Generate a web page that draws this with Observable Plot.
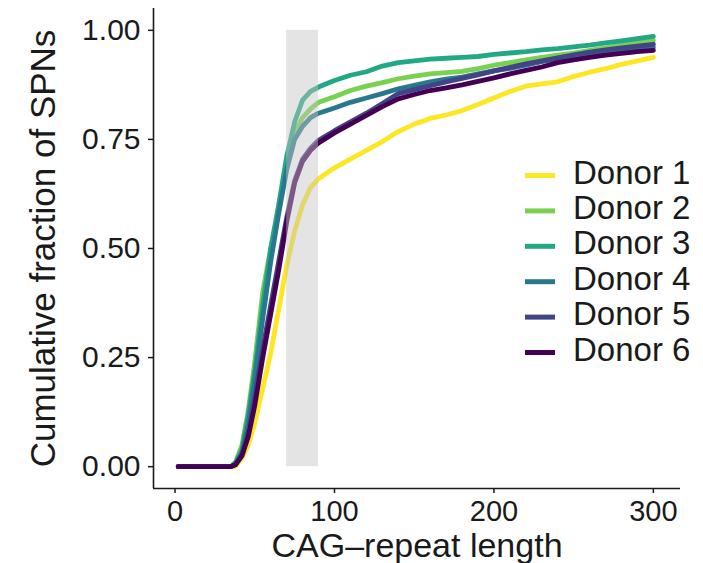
<!DOCTYPE html>
<html>
<head>
<meta charset="utf-8">
<script src="https://cdn.jsdelivr.net/npm/d3@7"></script>
<script src="https://cdn.jsdelivr.net/npm/@observablehq/plot@0.6"></script>
<style>
  html, body { margin: 0; padding: 0; background: white; }
  #chart { position: relative; width: 703px; height: 563px; }
</style>
</head>
<body>
<div id="chart"></div>
<script>
// ---- Data ----
const donors = ["Donor 1", "Donor 2", "Donor 3", "Donor 4", "Donor 5", "Donor 6"];
const donorColors = ["#FDE725", "#7AD151", "#22A884", "#2A788E", "#414487", "#440154"];

const cagLength = [2, 35, 38, 42, 46, 50, 55, 60, 65, 70, 75, 80, 85, 90,
  100, 110, 120, 130, 140, 150, 160, 170, 180, 190, 200, 210, 220, 230, 240, 250, 260, 270, 280, 290, 300];

const donor1 = [0, 0, 0, 0.02, 0.05, 0.10, 0.18, 0.26, 0.36, 0.46, 0.54, 0.60, 0.64, 0.66,
  0.685, 0.705, 0.725, 0.745, 0.768, 0.785, 0.798, 0.806, 0.816, 0.83, 0.845, 0.86, 0.872, 0.877, 0.882, 0.894, 0.904, 0.912, 0.922, 0.93, 0.938];
const donor2 = [0, 0, 0.01, 0.05, 0.13, 0.24, 0.40, 0.50, 0.585, 0.69, 0.765, 0.80, 0.82, 0.835,
  0.848, 0.862, 0.872, 0.88, 0.889, 0.895, 0.90, 0.903, 0.906, 0.912, 0.92, 0.926, 0.932, 0.938, 0.943, 0.948, 0.954, 0.96, 0.966, 0.971, 0.977];
const donor3 = [0, 0, 0.01, 0.04, 0.12, 0.22, 0.37, 0.50, 0.60, 0.71, 0.79, 0.84, 0.86, 0.87,
  0.885, 0.897, 0.905, 0.918, 0.926, 0.93, 0.934, 0.936, 0.938, 0.94, 0.945, 0.948, 0.951, 0.955, 0.958, 0.962, 0.966, 0.971, 0.976, 0.981, 0.986];
const donor4 = [0, 0, 0.005, 0.03, 0.10, 0.20, 0.34, 0.47, 0.58, 0.68, 0.75, 0.78, 0.80, 0.81,
  0.822, 0.835, 0.845, 0.855, 0.866, 0.874, 0.882, 0.888, 0.893, 0.90, 0.907, 0.913, 0.92, 0.928, 0.935, 0.94, 0.945, 0.95, 0.954, 0.958, 0.961];
const donor5 = [0, 0, 0.005, 0.03, 0.08, 0.16, 0.27, 0.37, 0.47, 0.57, 0.655, 0.705, 0.73, 0.748,
  0.77, 0.79, 0.81, 0.832, 0.855, 0.864, 0.873, 0.882, 0.89, 0.898, 0.907, 0.915, 0.923, 0.93, 0.937, 0.944, 0.95, 0.955, 0.96, 0.964, 0.968];
const donor6 = [0, 0, 0.005, 0.025, 0.07, 0.14, 0.25, 0.35, 0.45, 0.56, 0.65, 0.70, 0.725, 0.742,
  0.765, 0.785, 0.805, 0.825, 0.843, 0.853, 0.862, 0.868, 0.875, 0.883, 0.891, 0.90, 0.908, 0.916, 0.926, 0.932, 0.938, 0.943, 0.947, 0.951, 0.954];
const donorSeries = [donor1, donor2, donor3, donor4, donor5, donor6];

const bandStart = 70, bandEnd = 90, bandBottom = 0, bandTop = 1;

const xTicks = [0, 100, 200, 300];
const yTicks = [0, 0.25, 0.5, 0.75, 1];
const xTitle = "CAG\u2013repeat length";
const yTitle = "Cumulative fraction of SPNs";
const xDomain = [-13.5, 317];
const yDomain = [-0.05, 1.05];

// ---- Build table ----
const rows = [];
donors.forEach((d, i) => {
  donorSeries[i].forEach((v, j) => rows.push({donor: d, x: cagLength[j], y: v}));
});
const band = [{x1: bandStart, x2: bandEnd, y1: bandBottom, y2: bandTop}];

const ink = "#1a1a1a";
const chart = Plot.plot({
  width: 703,
  height: 563,
  marginLeft: 153,
  marginRight: 23,
  marginTop: 8,
  marginBottom: 75,
  x: {domain: xDomain},
  y: {domain: yDomain},
  color: {domain: donors, range: donorColors},
  style: {fontFamily: "'Liberation Sans', Arial, sans-serif", fontSize: "30px", color: ink, background: "white"},
  marks: [
    Plot.line(rows, {x: "x", y: "y", z: "donor", stroke: "donor", strokeWidth: 4.8, strokeLinejoin: "round"}),
    Plot.rect(band, {x1: "x1", x2: "x2", y1: "y1", y2: "y2", fill: "#c4c4c4", fillOpacity: 0.45}),
    Plot.ruleX([xDomain[0]], {stroke: ink, strokeWidth: 1.6}),
    Plot.ruleY([yDomain[0]], {stroke: ink, strokeWidth: 1.6}),
    Plot.axisX({ticks: xTicks, tickSize: 5, tickPadding: 6.5, label: null, strokeWidth: 1.5, fontSize: 29}),
    Plot.axisY({ticks: yTicks, tickFormat: d3.format(".2f"), tickSize: 5, tickPadding: 8, label: null, strokeWidth: 1.5}),
    Plot.text([xTitle], {text: d => d, frameAnchor: "bottom", textAnchor: "middle", dy: 58, lineAnchor: "middle", fontSize: 34, fill: ink}),
    Plot.text([yTitle], {text: d => d, frameAnchor: "left", textAnchor: "middle", dx: -110, rotate: -90, lineAnchor: "middle", fontSize: 35, fill: ink})
  ]
});

document.getElementById("chart").appendChild(chart);

// ---- Legend (inside the plot area, right side) ----
const svg = d3.select(chart);
const lg = svg.append("g").attr("class", "legend").attr("text-anchor", "start");
const rowY0 = 175.5, rowStep = 35.4;
donors.forEach((d, i) => {
  const y = rowY0 + i * rowStep;
  lg.append("line")
    .attr("x1", 525).attr("x2", 555).attr("y1", y).attr("y2", y)
    .attr("stroke", donorColors[i]).attr("stroke-width", 5);
  lg.append("text")
    .attr("x", 573).attr("y", y + 8)
    .attr("text-anchor", "start")
    .attr("font-size", 33)
    .attr("fill", ink)
    .text(d);
});
</script>
</body>
</html>
